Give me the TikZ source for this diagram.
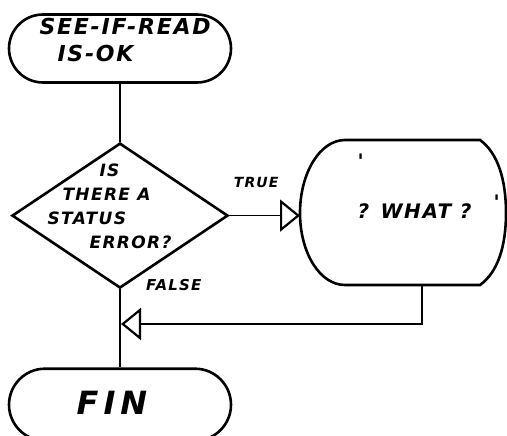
\documentclass[tikz,border=0pt]{standalone}
\usepackage{fontspec}
\newfontfamily\hand[LetterSpace=8]{DejaVu Sans}
\usetikzlibrary{shapes.geometric, shapes.misc, arrows.meta, positioning}

\begin{document}
\begin{tikzpicture}[%
  x=1pt, y=-1pt,%
  terminal/.style={rounded rectangle, draw, line width=2.6pt, minimum width=222pt, minimum height=68pt, inner sep=0pt},%
  decision/.style={diamond, draw, line width=2.6pt, minimum width=216pt, minimum height=145pt, inner sep=0pt},%
  hand/.style={font=\hand\bfseries\itshape, align=left},%
  arrow/.style={-{Triangle[open, length=20pt, width=32pt, line width=2.2pt]}, line width=1.6pt},%
  flow/.style={line width=1.6pt}%
]
  \useasboundingbox (0,0) rectangle (507,436);

  \node[terminal] (start) at (120,48.5) {};
  \node[hand, anchor=north west, font=\hand\bfseries\itshape\fontsize{22}{27}\selectfont] (start-txt) at (36,15) {SEE-IF-READ\\\hspace{18pt}IS-OK};

  \node[decision, below=58pt of start] (status) {};
  \node[hand, anchor=north west, font=\hand\bfseries\itshape\fontsize{17}{24}\selectfont] (status-txt) at (44,160) {\hspace{52pt}IS\\\hspace{15pt}THERE A\\STATUS\\\hspace{42pt}ERROR?};

  \node[terminal, below=78pt of status, minimum height=72pt] (fin) {};
  \node[hand, font=\hand\bfseries\itshape\fontsize{32}{36}\selectfont] (fin-txt) at (112,403) {F\hspace{5pt}I\hspace{5pt}N};

  % display box
  \draw[line width=2.6pt] (345,140) -- (480,140) .. controls (498,153) and (506,180) .. (506,213) .. controls (506,246) and (498,272) .. (480,285) -- (345,285) .. controls (320,285) and (300,253) .. (300,213) .. controls (300,173) and (320,140) .. (345,140) -- cycle;
  \node[hand, anchor=north west, font=\hand\bfseries\itshape\fontsize{20}{50}\selectfont] (what) at (354,150) {'\\? WHAT ?\hspace{22pt}\raisebox{9pt}{'}};
  \coordinate (what-w) at (300,213);
  \coordinate (what-s) at (422,285);
  \coordinate (join) at (121,324);

  \draw[flow] (start) -- (status);
  \draw[arrow] (status.east) -- node[pos=0.38, above=24pt, hand, font=\hand\bfseries\itshape\fontsize{14}{16}\selectfont] (true-lbl) {TRUE} (status.east -| what-w);
  \draw[flow] (status) -- node[pos=0, right=22pt, yshift=4pt, hand, font=\hand\bfseries\itshape\fontsize{15}{17}\selectfont] (false-lbl) {FALSE} (fin);
  \draw[arrow] (what-s) |- (join);
\end{tikzpicture}
\end{document}
